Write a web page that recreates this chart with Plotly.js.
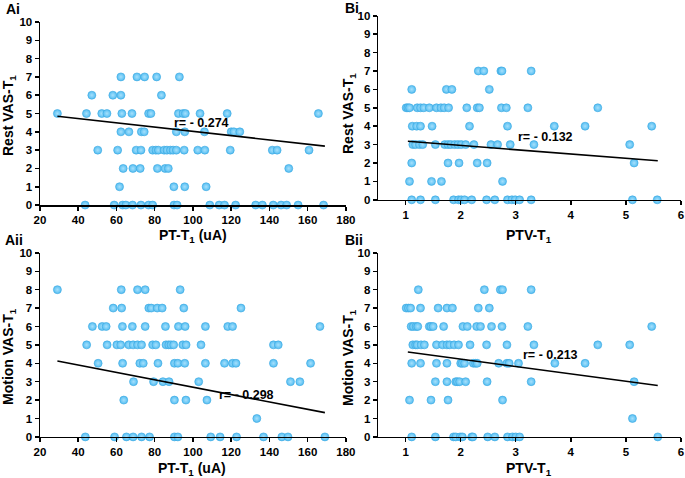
<!DOCTYPE html>
<html><head><meta charset="utf-8">
<script src="https://cdn.plot.ly/plotly-3.0.1.min.js"></script>
<style>html,body{margin:0;padding:0;background:#fff}#chart{width:685px;height:478px}</style>
</head><body><div id="chart"></div><script>
// VAS levels (rows of points)
const restLevels = [7, 6, 5, 4, 3, 2, 1, 0];
const motionLevels = [8, 7, 6, 5, 4, 3, 2, 1, 0];

// Ai: PT-T1 (uA) vs Rest VAS-T1, x values per VAS level
const ptRest = [
  [62.3, 70.7, 74.7, 81.0, 92.9],
  [47.1, 58.1, 62.3, 83.5],
  [29.1, 44.3, 52.3, 55.0, 62.8, 68.1, 76.8, 78.0, 92.4, 94.8, 96.0, 103.7, 117.9, 165.6],
  [62.3, 66.5, 73.0, 74.5, 91.3, 95.7, 106.0, 120.0, 121.4, 124.5],
  [50.2, 60.6, 70.3, 72.8, 78.9, 80.6, 81.9, 84.9, 86.4, 88.2, 89.6, 91.3, 95.4, 102.5, 106.2, 119.5, 141.5, 144.0, 160.7],
  [63.5, 68.6, 72.4, 81.4, 85.4, 87.1, 150.1],
  [61.6, 90.0, 95.7, 106.9],
  [43.6, 58.8, 63.2, 64.9, 68.4, 72.8, 76.8, 78.9, 90.1, 91.7, 108.8, 113.7, 116.5, 122.3, 132.8, 136.3, 142.0, 146.1, 149.0, 155.0, 168.3]
];
// Bi: PTV-T1 vs Rest VAS-T1
const ptvRest = [
  [2.32, 2.42, 2.73, 2.75, 3.28],
  [1.11, 1.74, 1.84, 2.52],
  [1.01, 1.04, 1.07, 1.21, 1.27, 1.33, 1.43, 1.56, 1.64, 1.70, 1.78, 2.11, 2.30, 2.34, 2.74, 2.83, 3.22, 4.49],
  [1.12, 1.20, 1.27, 1.48, 2.16, 2.85, 3.70, 4.26, 5.47],
  [1.13, 1.18, 1.25, 1.31, 1.54, 1.71, 1.77, 1.82, 1.89, 1.95, 2.01, 2.09, 2.24, 2.55, 2.67, 2.90, 3.33, 5.07],
  [1.11, 1.77, 1.97, 2.30, 2.48, 5.15],
  [1.07, 1.47, 1.65, 2.76],
  [1.11, 1.27, 1.54, 1.87, 1.96, 2.01, 2.07, 2.20, 2.47, 2.62, 2.85, 2.93, 2.99, 3.07, 3.28, 5.12, 5.57]
];
// Aii: PT-T1 (uA) vs Motion VAS-T1
const ptMotion = [
  [29.1, 62.5, 71.0, 75.0, 93.3],
  [58.3, 62.7, 76.9, 78.2, 81.3, 83.9, 95.2, 125.1],
  [47.4, 52.5, 54.6, 63.1, 68.3, 75.0, 85.6, 92.4, 95.9, 106.5, 118.2, 120.7, 166.4],
  [44.4, 55.1, 60.2, 62.2, 66.4, 68.7, 71.0, 73.1, 78.9, 80.6, 85.9, 87.3, 88.5, 89.9, 94.7, 96.4, 104.2, 142.1, 144.6],
  [50.4, 63.2, 72.2, 74.0, 81.7, 90.3, 92.1, 95.7, 106.5, 116.5, 120.7, 122.5, 142.1, 161.5],
  [68.9, 79.4, 84.3, 87.5, 103.0, 151.0, 155.9],
  [63.8, 90.3, 96.3, 107.3],
  [133.4],
  [43.7, 59.0, 65.2, 68.7, 73.1, 77.3, 90.3, 92.1, 109.3, 114.2, 122.8, 136.9, 146.5, 149.7, 169.0]
];
// Bii: PTV-T1 vs Motion VAS-T1
const ptvMotion = [
  [1.23, 2.43, 2.72, 2.76, 3.28],
  [1.01, 1.05, 1.09, 1.27, 1.59, 1.75, 1.85, 2.32, 2.52],
  [1.10, 1.14, 1.19, 1.22, 1.43, 1.46, 1.50, 1.69, 2.04, 2.12, 2.29, 2.36, 2.56, 2.75, 3.22, 5.47],
  [1.13, 1.18, 1.21, 1.28, 1.34, 1.56, 1.67, 1.75, 1.80, 1.88, 1.96, 2.17, 2.47, 2.84, 3.33, 4.49, 5.07],
  [1.11, 1.27, 1.56, 1.75, 2.00, 2.03, 2.07, 2.23, 2.27, 2.30, 2.69, 2.84, 2.88, 3.05, 3.71, 4.26],
  [1.54, 1.75, 1.91, 1.94, 1.98, 2.09, 2.48, 3.28, 5.15],
  [1.07, 1.46, 1.77, 2.76],
  [5.12],
  [1.11, 1.54, 1.87, 1.91, 1.99, 2.03, 2.20, 2.22, 2.49, 2.62, 2.85, 2.94, 3.00, 3.07, 5.58]
];

// Regression line end points
const fitAiX = [29.1, 169.0], fitAiY = [4.85, 3.22];
const fitBiX = [1.04, 5.58], fitBiY = [3.18, 2.12];
const fitAiiX = [29.1, 169.0], fitAiiY = [4.12, 1.32];
const fitBiiX = [1.04, 5.58], fitBiiY = [4.61, 2.79];

// Correlation labels
const rLabels = ["r= - 0.274", "r= - 0.132", "r= - 0.298", "r= - 0.213"];
const rPosX = [89.0, 3.0, 112.5, 3.1];
const rPosY = [4.5, 3.42, 2.27, 4.46];
const panelLabels = ["Ai", "Bi", "Aii", "Bii"];
const xTitles = ["PT-T<sub>1</sub> (uA)", "PTV-T<sub>1</sub>", "PT-T<sub>1</sub> (uA)", "PTV-T<sub>1</sub>"];
const yTitles = ["Rest VAS-T<sub>1</sub>", "Rest VAS-T<sub>1</sub>", "Motion VAS-T<sub>1</sub>", "Motion VAS-T<sub>1</sub>"];
const ptTicks = [20, 40, 60, 80, 100, 120, 140, 160, 180];
const ptvTicks = [1, 2, 3, 4, 5, 6];
const vasTicks = [0, 1, 2, 3, 4, 5, 6, 7, 8, 9, 10];

function flatten(groups, levels) {
  const x = [], y = [];
  groups.forEach((g, i) => g.forEach(v => { x.push(v); y.push(levels[i]); }));
  return {x, y};
}

const W = 685, H = 478;
const FONT = 'Liberation Sans, Arial, sans-serif';
const marker = {size: 8, color: '#55BEF2', line: {color: '#3AA7E0', width: 0.6},
  gradient: {type: 'radial', color: '#A6E0FC'}};

const sets = [
  [flatten(ptRest, restLevels), fitAiX, fitAiY, 'x', 'y'],
  [flatten(ptvRest, restLevels), fitBiX, fitBiY, 'x2', 'y2'],
  [flatten(ptMotion, motionLevels), fitAiiX, fitAiiY, 'x3', 'y3'],
  [flatten(ptvMotion, motionLevels), fitBiiX, fitBiiY, 'x4', 'y4']
];
const traces = [];
sets.forEach(s => {
  traces.push({type: 'scatter', mode: 'markers', x: s[0].x, y: s[0].y, xaxis: s[3], yaxis: s[4],
    marker: marker, cliponaxis: false, hoverinfo: 'x+y'});
  traces.push({type: 'scatter', mode: 'lines', x: s[1], y: s[2], xaxis: s[3], yaxis: s[4],
    line: {color: '#000', width: 1.6}, cliponaxis: false});
});

function ax(extra) {
  return Object.assign({
    showline: true, linecolor: '#000', linewidth: 1.5, ticks: 'outside', ticklen: 4, tickwidth: 1.5,
    tickcolor: '#000', showgrid: false, zeroline: false, fixedrange: true,
    tickfont: {family: FONT, size: 11.5, color: '#000', weight: 'bold'}
  }, extra);
}

const xDomA = [0.0584, 0.505], xDomB = [0.552, 0.994];
const layout = {
  width: W, height: H, showlegend: false,
  margin: {l: 0, r: 0, t: 0, b: 0},
  paper_bgcolor: '#fff', plot_bgcolor: '#fff',
  xaxis: ax({domain: xDomA, range: [20, 180], tickvals: ptTicks, anchor: 'y'}),
  yaxis: ax({domain: [0.571, 0.954], range: [0, 10], tickvals: vasTicks, anchor: 'x'}),
  xaxis2: ax({domain: xDomB, range: [0.5, 6], tickvals: ptvTicks, anchor: 'y2'}),
  yaxis2: ax({domain: [0.582, 0.967], range: [0, 10], tickvals: vasTicks, anchor: 'x2'}),
  xaxis3: ax({domain: xDomA, range: [20, 180], tickvals: ptTicks, anchor: 'y3'}),
  yaxis3: ax({domain: [0.086, 0.471], range: [0, 10], tickvals: vasTicks, anchor: 'x3'}),
  xaxis4: ax({domain: xDomB, range: [0.5, 6], tickvals: ptvTicks, anchor: 'y4'}),
  yaxis4: ax({domain: [0.086, 0.471], range: [0, 10], tickvals: vasTicks, anchor: 'x4'}),
  annotations: []
};
const refs = [['x', 'y'], ['x2', 'y2'], ['x3', 'y3'], ['x4', 'y4']];
rLabels.forEach((t, i) => layout.annotations.push({
  text: t, xref: refs[i][0], yref: refs[i][1], x: rPosX[i], y: rPosY[i], xanchor: 'left', yanchor: 'middle',
  showarrow: false, font: {family: FONT, size: 12.5, color: '#000', weight: 'bold'}
}));
function paperText(t, px, py, size, angle, xanchor) {
  layout.annotations.push({
    text: t, xref: 'paper', yref: 'paper', x: px / W, y: 1 - py / H, textangle: angle || 0,
    xanchor: xanchor || 'center', yanchor: 'middle', showarrow: false,
    font: {family: FONT, size: size, color: '#000', weight: 'bold'}
  });
}
// panel labels
const plPos = [[4, 9], [343, 8], [3, 240], [343, 240]];
panelLabels.forEach((t, i) => paperText(t, plPos[i][0], plPos[i][1], 14, 0, 'left'));
// axis titles
const xtPos = [[193, 236], [529, 236], [192, 469], [529, 469]];
xTitles.forEach((t, i) => paperText(t, xtPos[i][0], xtPos[i][1], 14, 0));
const ytPos = [[9, 116], [349, 114], [9, 357], [349, 358]];
yTitles.forEach((t, i) => paperText(t, ytPos[i][0], ytPos[i][1], 14, -90));

Plotly.newPlot('chart', traces, layout, {staticPlot: true, displayModeBar: false});
</script></body></html>
